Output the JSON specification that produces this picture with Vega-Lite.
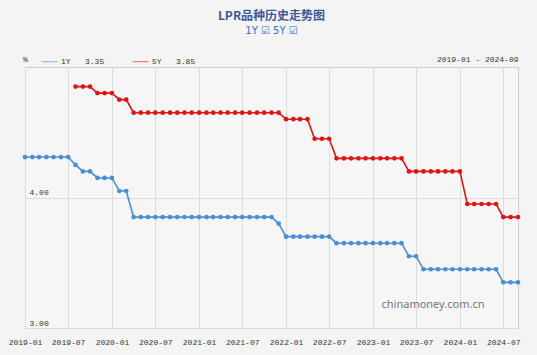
{
  "$schema": "https://vega.github.io/schema/vega-lite/v6.json",
  "autosize": "none",
  "width": 493,
  "height": 261,
  "padding": {"left": 25, "top": 67, "right": 19, "bottom": 27},
  "background": "#f4f4f4",
  "title": {
    "text": "LPR品种历史走势图",
    "subtitle": "1Y ☑ 5Y ☑",
    "anchor": "middle",
    "frame": "group",
    "font": "Noto Sans CJK SC",
    "fontSize": 12,
    "fontWeight": "bold",
    "color": "#3d5a98",
    "subtitleFont": "DejaVu Sans",
    "subtitleFontSize": 10,
    "subtitleColor": "#2f6fd0",
    "subtitlePadding": 3,
    "offset": 16
  },
  "config": {
    "view": {"stroke": "#cfcfcf", "fill": "#f6f6f6"},
    "axis": {
      "labelFont": "Liberation Mono",
      "labelFontSize": 8,
      "labelColor": "#333333",
      "titleFont": "Liberation Mono",
      "titleFontSize": 8,
      "titleFontWeight": "normal",
      "titleColor": "#333333",
      "gridColor": "#dcdcdc",
      "ticks": false,
      "tickSize": 0,
      "domain": false
    }
  },
  "data": {
    "format": {"parse": {"date": "date:'%Y-%m'"}},
    "values": [
      {"date": "2019-01", "series": "1Y", "rate": 4.31},
      {"date": "2019-02", "series": "1Y", "rate": 4.31},
      {"date": "2019-03", "series": "1Y", "rate": 4.31},
      {"date": "2019-04", "series": "1Y", "rate": 4.31},
      {"date": "2019-05", "series": "1Y", "rate": 4.31},
      {"date": "2019-06", "series": "1Y", "rate": 4.31},
      {"date": "2019-07", "series": "1Y", "rate": 4.31},
      {"date": "2019-08", "series": "1Y", "rate": 4.25},
      {"date": "2019-09", "series": "1Y", "rate": 4.20},
      {"date": "2019-10", "series": "1Y", "rate": 4.20},
      {"date": "2019-11", "series": "1Y", "rate": 4.15},
      {"date": "2019-12", "series": "1Y", "rate": 4.15},
      {"date": "2020-01", "series": "1Y", "rate": 4.15},
      {"date": "2020-02", "series": "1Y", "rate": 4.05},
      {"date": "2020-03", "series": "1Y", "rate": 4.05},
      {"date": "2020-04", "series": "1Y", "rate": 3.85},
      {"date": "2020-05", "series": "1Y", "rate": 3.85},
      {"date": "2020-06", "series": "1Y", "rate": 3.85},
      {"date": "2020-07", "series": "1Y", "rate": 3.85},
      {"date": "2020-08", "series": "1Y", "rate": 3.85},
      {"date": "2020-09", "series": "1Y", "rate": 3.85},
      {"date": "2020-10", "series": "1Y", "rate": 3.85},
      {"date": "2020-11", "series": "1Y", "rate": 3.85},
      {"date": "2020-12", "series": "1Y", "rate": 3.85},
      {"date": "2021-01", "series": "1Y", "rate": 3.85},
      {"date": "2021-02", "series": "1Y", "rate": 3.85},
      {"date": "2021-03", "series": "1Y", "rate": 3.85},
      {"date": "2021-04", "series": "1Y", "rate": 3.85},
      {"date": "2021-05", "series": "1Y", "rate": 3.85},
      {"date": "2021-06", "series": "1Y", "rate": 3.85},
      {"date": "2021-07", "series": "1Y", "rate": 3.85},
      {"date": "2021-08", "series": "1Y", "rate": 3.85},
      {"date": "2021-09", "series": "1Y", "rate": 3.85},
      {"date": "2021-10", "series": "1Y", "rate": 3.85},
      {"date": "2021-11", "series": "1Y", "rate": 3.85},
      {"date": "2021-12", "series": "1Y", "rate": 3.80},
      {"date": "2022-01", "series": "1Y", "rate": 3.70},
      {"date": "2022-02", "series": "1Y", "rate": 3.70},
      {"date": "2022-03", "series": "1Y", "rate": 3.70},
      {"date": "2022-04", "series": "1Y", "rate": 3.70},
      {"date": "2022-05", "series": "1Y", "rate": 3.70},
      {"date": "2022-06", "series": "1Y", "rate": 3.70},
      {"date": "2022-07", "series": "1Y", "rate": 3.70},
      {"date": "2022-08", "series": "1Y", "rate": 3.65},
      {"date": "2022-09", "series": "1Y", "rate": 3.65},
      {"date": "2022-10", "series": "1Y", "rate": 3.65},
      {"date": "2022-11", "series": "1Y", "rate": 3.65},
      {"date": "2022-12", "series": "1Y", "rate": 3.65},
      {"date": "2023-01", "series": "1Y", "rate": 3.65},
      {"date": "2023-02", "series": "1Y", "rate": 3.65},
      {"date": "2023-03", "series": "1Y", "rate": 3.65},
      {"date": "2023-04", "series": "1Y", "rate": 3.65},
      {"date": "2023-05", "series": "1Y", "rate": 3.65},
      {"date": "2023-06", "series": "1Y", "rate": 3.55},
      {"date": "2023-07", "series": "1Y", "rate": 3.55},
      {"date": "2023-08", "series": "1Y", "rate": 3.45},
      {"date": "2023-09", "series": "1Y", "rate": 3.45},
      {"date": "2023-10", "series": "1Y", "rate": 3.45},
      {"date": "2023-11", "series": "1Y", "rate": 3.45},
      {"date": "2023-12", "series": "1Y", "rate": 3.45},
      {"date": "2024-01", "series": "1Y", "rate": 3.45},
      {"date": "2024-02", "series": "1Y", "rate": 3.45},
      {"date": "2024-03", "series": "1Y", "rate": 3.45},
      {"date": "2024-04", "series": "1Y", "rate": 3.45},
      {"date": "2024-05", "series": "1Y", "rate": 3.45},
      {"date": "2024-06", "series": "1Y", "rate": 3.45},
      {"date": "2024-07", "series": "1Y", "rate": 3.35},
      {"date": "2024-08", "series": "1Y", "rate": 3.35},
      {"date": "2024-09", "series": "1Y", "rate": 3.35},
      {"date": "2019-08", "series": "5Y", "rate": 4.85},
      {"date": "2019-09", "series": "5Y", "rate": 4.85},
      {"date": "2019-10", "series": "5Y", "rate": 4.85},
      {"date": "2019-11", "series": "5Y", "rate": 4.80},
      {"date": "2019-12", "series": "5Y", "rate": 4.80},
      {"date": "2020-01", "series": "5Y", "rate": 4.80},
      {"date": "2020-02", "series": "5Y", "rate": 4.75},
      {"date": "2020-03", "series": "5Y", "rate": 4.75},
      {"date": "2020-04", "series": "5Y", "rate": 4.65},
      {"date": "2020-05", "series": "5Y", "rate": 4.65},
      {"date": "2020-06", "series": "5Y", "rate": 4.65},
      {"date": "2020-07", "series": "5Y", "rate": 4.65},
      {"date": "2020-08", "series": "5Y", "rate": 4.65},
      {"date": "2020-09", "series": "5Y", "rate": 4.65},
      {"date": "2020-10", "series": "5Y", "rate": 4.65},
      {"date": "2020-11", "series": "5Y", "rate": 4.65},
      {"date": "2020-12", "series": "5Y", "rate": 4.65},
      {"date": "2021-01", "series": "5Y", "rate": 4.65},
      {"date": "2021-02", "series": "5Y", "rate": 4.65},
      {"date": "2021-03", "series": "5Y", "rate": 4.65},
      {"date": "2021-04", "series": "5Y", "rate": 4.65},
      {"date": "2021-05", "series": "5Y", "rate": 4.65},
      {"date": "2021-06", "series": "5Y", "rate": 4.65},
      {"date": "2021-07", "series": "5Y", "rate": 4.65},
      {"date": "2021-08", "series": "5Y", "rate": 4.65},
      {"date": "2021-09", "series": "5Y", "rate": 4.65},
      {"date": "2021-10", "series": "5Y", "rate": 4.65},
      {"date": "2021-11", "series": "5Y", "rate": 4.65},
      {"date": "2021-12", "series": "5Y", "rate": 4.65},
      {"date": "2022-01", "series": "5Y", "rate": 4.60},
      {"date": "2022-02", "series": "5Y", "rate": 4.60},
      {"date": "2022-03", "series": "5Y", "rate": 4.60},
      {"date": "2022-04", "series": "5Y", "rate": 4.60},
      {"date": "2022-05", "series": "5Y", "rate": 4.45},
      {"date": "2022-06", "series": "5Y", "rate": 4.45},
      {"date": "2022-07", "series": "5Y", "rate": 4.45},
      {"date": "2022-08", "series": "5Y", "rate": 4.30},
      {"date": "2022-09", "series": "5Y", "rate": 4.30},
      {"date": "2022-10", "series": "5Y", "rate": 4.30},
      {"date": "2022-11", "series": "5Y", "rate": 4.30},
      {"date": "2022-12", "series": "5Y", "rate": 4.30},
      {"date": "2023-01", "series": "5Y", "rate": 4.30},
      {"date": "2023-02", "series": "5Y", "rate": 4.30},
      {"date": "2023-03", "series": "5Y", "rate": 4.30},
      {"date": "2023-04", "series": "5Y", "rate": 4.30},
      {"date": "2023-05", "series": "5Y", "rate": 4.30},
      {"date": "2023-06", "series": "5Y", "rate": 4.20},
      {"date": "2023-07", "series": "5Y", "rate": 4.20},
      {"date": "2023-08", "series": "5Y", "rate": 4.20},
      {"date": "2023-09", "series": "5Y", "rate": 4.20},
      {"date": "2023-10", "series": "5Y", "rate": 4.20},
      {"date": "2023-11", "series": "5Y", "rate": 4.20},
      {"date": "2023-12", "series": "5Y", "rate": 4.20},
      {"date": "2024-01", "series": "5Y", "rate": 4.20},
      {"date": "2024-02", "series": "5Y", "rate": 3.95},
      {"date": "2024-03", "series": "5Y", "rate": 3.95},
      {"date": "2024-04", "series": "5Y", "rate": 3.95},
      {"date": "2024-05", "series": "5Y", "rate": 3.95},
      {"date": "2024-06", "series": "5Y", "rate": 3.95},
      {"date": "2024-07", "series": "5Y", "rate": 3.85},
      {"date": "2024-08", "series": "5Y", "rate": 3.85},
      {"date": "2024-09", "series": "5Y", "rate": 3.85}
    ]
  },
  "layer": [
    {
      "mark": {"type": "line", "strokeWidth": 1.6, "point": {"filled": true, "size": 22, "opacity": 1}},
      "encoding": {
        "x": {
          "field": "date",
          "type": "temporal",
          "scale": {"domain": [{"year": 2019, "month": 1, "date": 1}, {"year": 2024, "month": 9, "date": 1}]},
          "axis": {
            "values": [
              {"year": 2019, "month": 1, "date": 1}, {"year": 2019, "month": 7, "date": 1},
              {"year": 2020, "month": 1, "date": 1}, {"year": 2020, "month": 7, "date": 1},
              {"year": 2021, "month": 1, "date": 1}, {"year": 2021, "month": 7, "date": 1},
              {"year": 2022, "month": 1, "date": 1}, {"year": 2022, "month": 7, "date": 1},
              {"year": 2023, "month": 1, "date": 1}, {"year": 2023, "month": 7, "date": 1},
              {"year": 2024, "month": 1, "date": 1}, {"year": 2024, "month": 7, "date": 1}
            ],
            "format": "%Y-%m",
            "labelPadding": 10,
            "labelFlush": false,
            "labelOverlap": false,
            "grid": true,
            "title": "2019-01 - 2024-09",
            "titleX": 493,
            "titleY": -267,
            "titleAlign": "right",
            "titleBaseline": "alphabetic",
            "titleAnchor": null
          }
        },
        "y": {
          "field": "rate",
          "type": "quantitative",
          "scale": {"domain": [3, 5], "zero": false, "nice": false},
          "axis": {
            "values": [3, 4],
            "format": ".2f",
            "grid": true,
            "labelAlign": "left",
            "labelBaseline": "bottom",
            "labelPadding": -4,
            "labelOffset": -1,
            "title": "%",
            "titleAngle": 0,
            "titleX": 0,
            "titleY": -6,
            "titleAlign": "center",
            "titleBaseline": "alphabetic",
            "titleAnchor": null
          }
        },
        "color": {
          "field": "series",
          "type": "nominal",
          "scale": {"domain": ["1Y", "5Y"], "range": ["#4a8fd6", "#dd1515"]},
          "legend": {
            "orient": "none",
            "legendX": 16,
            "legendY": -14,
            "direction": "horizontal",
            "title": null,
            "symbolType": "stroke",
            "symbolSize": 256,
            "symbolStrokeWidth": 1,
            "symbolOpacity": 0.65,
            "labelFont": "Liberation Mono",
            "labelFontSize": 8,
            "labelColor": "#333333",
            "labelOffset": 3,
            "columnPadding": 25,
            "labelExpr": "datum.label + '\u00a0\u00a0\u00a0' + (datum.label == '1Y' ? '3.35' : '3.85')"
          }
        }
      }
    },
    {
      "data": {"values": [{"site": "chinamoney.com.cn"}]},
      "mark": {"type": "text", "font": "Noto Sans", "fontSize": 11, "color": "#777777", "align": "center", "baseline": "middle"},
      "encoding": {
        "x": {"datum": {"year": 2023, "month": 9, "date": 10}, "type": "temporal"},
        "y": {"datum": 3.18, "type": "quantitative"},
        "text": {"field": "site"}
      }
    }
  ]
}
